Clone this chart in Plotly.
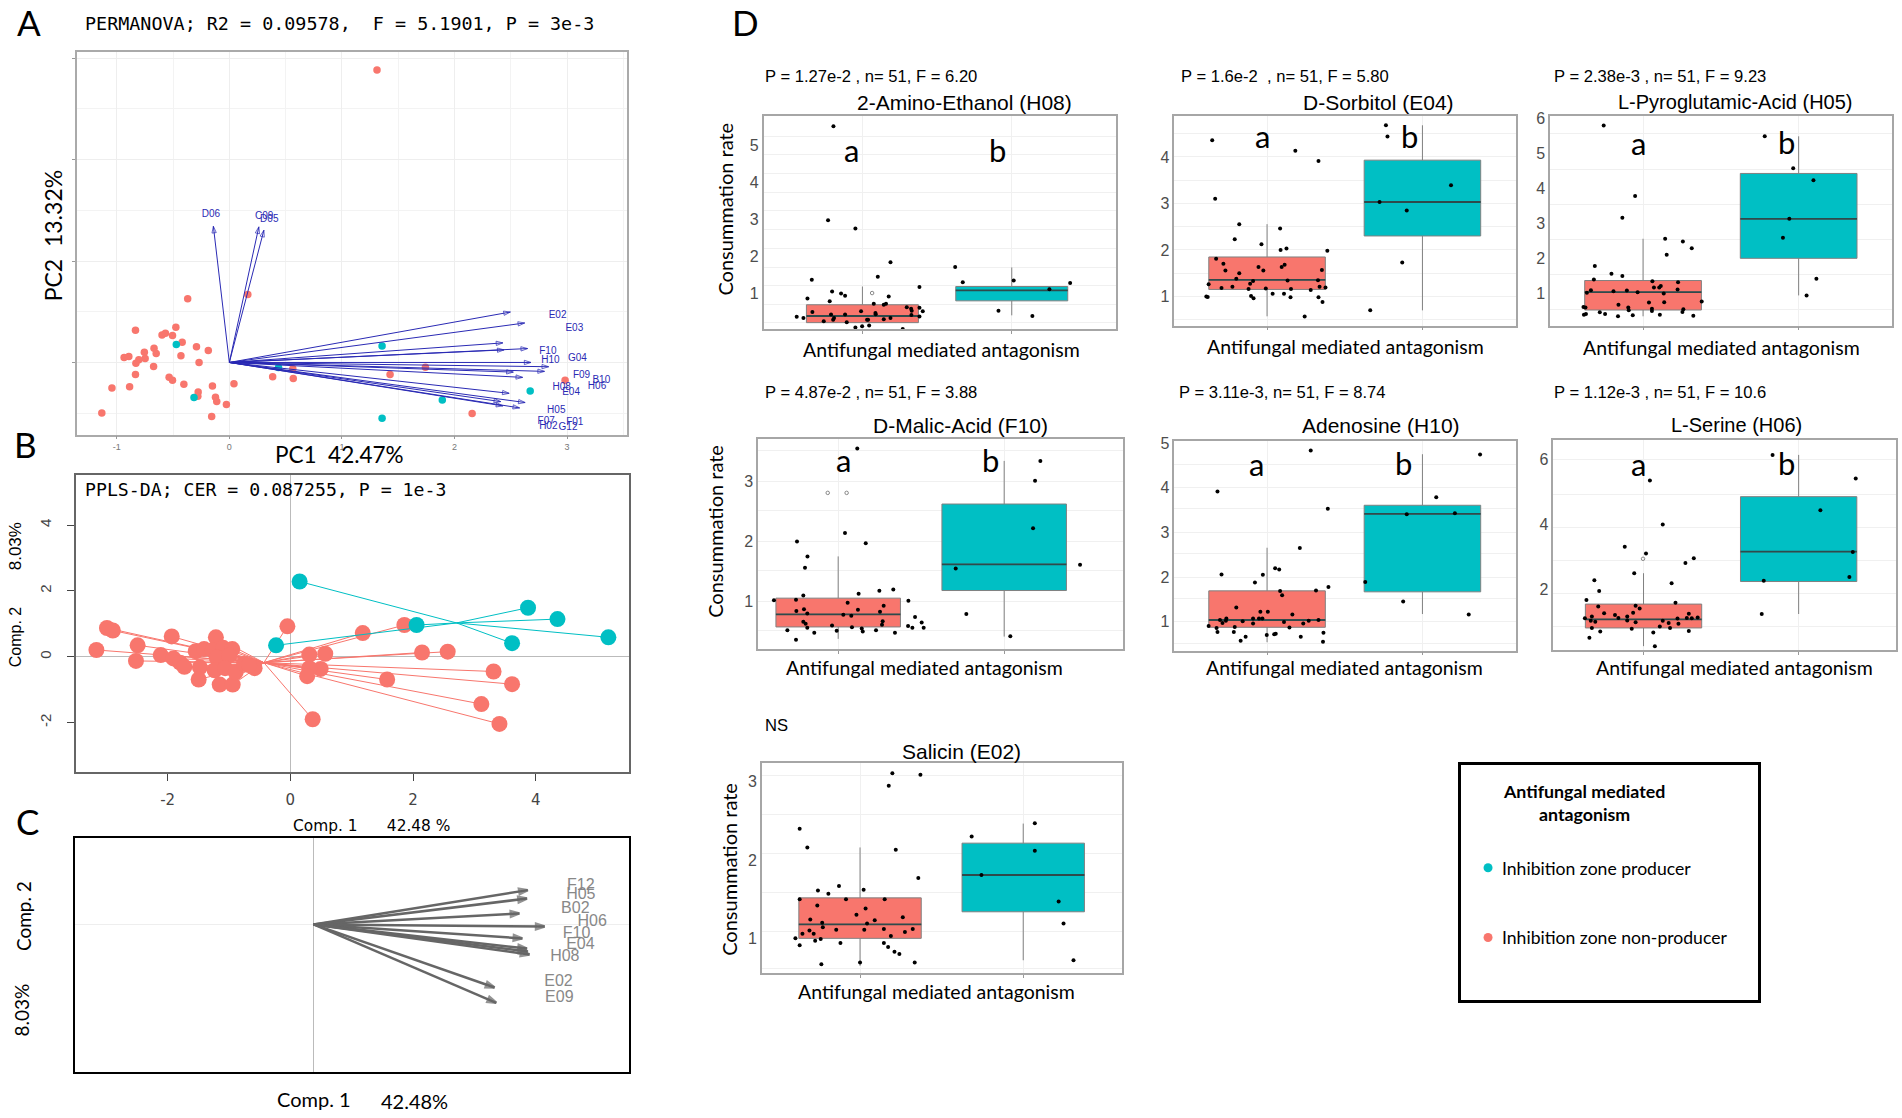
import plotly.graph_objects as go

RED = "#F8766D"
TEAL = "#00BFC4"
W, H = 1902, 1118

# panel A, PCA scores and loadings
a_red_x = [1.312, 0.164, -0.370, -0.475, -0.834, -0.598, -0.568, -0.505, -0.419, -0.669, -0.292, -0.187, -0.755, -0.650, -0.893, -0.935, -0.748, -0.430, -0.804, -0.830, -0.269, -0.673, -0.834, -0.535, -0.505, -0.404, -0.886, -1.043, -0.150, 0.041, -0.277, -0.280, -0.123, -0.112, -0.026, -0.157, -1.133, 0.385, 0.568, 0.564, 1.428, 1.742, 2.157, 2.983]
a_red_y = [2.882, 0.670, 0.627, 0.346, 0.317, 0.271, 0.288, 0.265, 0.199, 0.141, 0.154, 0.118, 0.101, 0.088, 0.059, 0.049, 0.039, 0.065, 0.026, -0.007, 0.0, -0.039, -0.118, -0.147, -0.176, -0.216, -0.239, -0.252, -0.232, -0.209, -0.291, -0.333, -0.343, -0.386, -0.415, -0.533, -0.497, -0.141, -0.157, -0.062, -0.118, -0.046, -0.503, -0.176]
a_teal_x = [1.357, -0.471, 0.437, 2.673, 1.892, -0.314, 1.357]
a_teal_y = [0.163, 0.176, -0.049, -0.281, -0.369, -0.346, -0.549]
a_arrow_x = [-0.142, 0.262, 0.307, 2.497, 2.624, 2.430, 2.441, 2.650, 2.680, 2.837, 2.800, 2.523, 2.606, 2.486, 2.628, 2.411, 2.430, 2.579]
a_arrow_y = [1.343, 1.337, 1.304, 0.497, 0.389, 0.193, 0.124, 0.137, 0.0, -0.042, -0.088, -0.095, -0.147, -0.304, -0.395, -0.386, -0.428, -0.448]
a_labels = ["D06", "C09", "D05", "E02", "E03", "F10", "H10", "G04", "F09", "B10", "H06", "H08", "E04", "H05", "F07", "F01", "H02", "G12"]
a_label_x = [-0.164, 0.310, 0.355, 2.916, 3.065, 2.830, 2.852, 3.092, 3.129, 3.305, 3.267, 2.953, 3.036, 2.905, 2.815, 3.069, 2.834, 3.009]
a_label_y = [1.454, 1.438, 1.405, 0.458, 0.333, 0.105, 0.023, 0.036, -0.127, -0.176, -0.239, -0.248, -0.294, -0.477, -0.582, -0.595, -0.627, -0.644]

# panel B, PLS-DA scores
b_red_x = [-3.162, -2.990, -2.894, -2.490, -2.517, -1.934, -2.113, -1.907, -1.797, -1.728, -1.543, -1.406, -1.214, -1.475, -1.495, -1.269, -1.097, -0.947, -1.200, -0.995, -1.235, -1.063, -1.152, -0.940, -0.892, -0.754, -0.583, -0.672, -0.048, 0.309, 0.569, 0.494, 0.309, 0.274, 0.364, 1.180, 1.859, 1.578, 2.147, 2.565, 3.313, 3.615, 3.114, 3.409]
b_red_y = [0.205, 0.873, 0.796, 0.347, -0.128, 0.616, 0.051, -0.051, -0.180, -0.308, 0.167, 0.231, 0.590, -0.321, -0.693, 0.193, 0.270, 0.231, -0.026, 0.039, -0.411, -0.347, -0.847, -0.847, -0.475, -0.218, -0.347, -0.257, 0.924, 0.064, 0.090, -0.372, -0.347, -0.590, -1.900, 0.719, 0.963, -0.693, 0.128, 0.154, -0.449, -0.834, -1.438, -2.041]
b_red_center = [-0.432, -0.18]
b_teal_x = [0.151, -0.233, 2.058, 3.875, 4.355, 5.185, 3.615]
b_teal_y = [2.285, 0.347, 0.963, 1.489, 1.143, 0.590, 0.411]
b_teal_center = [2.709, 1.027]

# panel C, PLS-DA loadings
c_arrow_x = [1.018, 1.014, 0.978, 1.098, 0.992, 1.014, 1.018, 1.026, 0.860, 0.868]
c_arrow_y = [0.162, 0.122, 0.052, -0.010, -0.066, -0.114, -0.128, -0.142, -0.298, -0.370]
c_labels = ["F12", "H05", "B02", "H06", "F10", "E04", "H08", "E02", "E09"]
c_label_x = [1.270, 1.270, 1.244, 1.324, 1.250, 1.268, 1.194, 1.164, 1.168]
c_label_y = [0.182, 0.138, 0.074, 0.012, -0.044, -0.098, -0.156, -0.274, -0.348]

# panel D, boxes: q1, median, q3, lower whisker, upper whisker
h08_red_box = [0.223, 0.402, 0.705, 0.223, 1.196]
h08_teal_box = [0.81, 1.09, 1.196, 0.42, 1.71]
h08_red_x = [.806, .770, .953, 1.188, 1.103, .661, 1.382, .797, .857, .884, 1.176, .632, .781, 1.076, 1.143, 1.158, 1.297, 1.326, 1.330, 1.382, 1.404, .665, .991, .790, .884, 1.087, 1.089, 1.328, 1.382, .560, .605, .810, .804, .741, .895, 1.031, 1.038, 1.143, 1.188, .953, .998, 1.045, 1.270]
h08_red_y = [5.51, 2.98, 2.76, 1.85, 1.46, 1.375, 1.18, 1.06, 1.01, .95, .93, .875, .80, .73, .705, .73, .64, .60, .545, .625, .527, .51, .527, .44, .44, .48, .446, .43, .39, .384, .348, .348, .304, .259, .232, .304, .304, .313, .348, .089, .125, .143, .054]
h08_teal_x = [1.621, 1.672, 2.013, 2.252, 2.391, 1.911, 2.138]
h08_teal_y = [1.72, 1.31, 1.36, 1.12, 1.29, .545, .40]
h08_grid = [.22, .71, 1.22, 1.71, 2.23, 2.74, 3.25, 3.74, 4.23, 4.75, 5.24]
h08_faint_x = [1.065]
h08_faint_y = [1.02]

e04_red_box = [1.15, 1.356, 1.848, .572, 2.554]
e04_teal_box = [2.30, 3.03, 3.93, .70, 4.68]
e04_red_x = [.647, 1.182, 1.331, .666, .821, 1.084, .792, .964, 1.087, 1.125, 1.388, .672, .719, .732, .945, .976, 1.113, 1.094, 1.353, .821, .802, .910, .891, 1.132, 1.328, .624, 1.338, .777, .707, .881, .992, 1.154, 1.281, 1.376, 1.036, 1.109, .609, .618, .897, .913, 1.151, 1.331, 1.357, 1.242]
e04_red_y = [4.36, 4.13, 3.91, 3.10, 2.55, 2.46, 2.23, 2.12, 2.00, 2.03, 1.98, 1.81, 1.70, 1.56, 1.63, 1.56, 1.68, 1.63, 1.57, 1.50, 1.38, 1.33, 1.27, 1.34, 1.35, 1.26, 1.21, 1.21, 1.18, 1.16, 1.17, 1.16, 1.14, 1.19, 1.06, 1.06, 1.00, .99, 1.01, .96, .98, .98, .88, .57]
e04_teal_x = [1.765, 1.775, 2.184, 1.724, 1.899, 1.870, 1.664]
e04_teal_y = [4.68, 4.44, 3.39, 3.03, 2.85, 1.73, .70]
e04_grid = [.5, 1, 1.5, 2, 2.5, 3, 3.5, 4, 4.5]

h05_red_box = [.537, 1.047, 1.378, .357, 2.569]
h05_teal_box = [2.011, 3.136, 4.431, .953, 5.49]
h05_red_x = [.747, .949, .867, 1.142, 1.256, 1.313, 1.152, .690, .797, .867, .684, 1.060, 1.225, 1.070, 1.104, 1.114, 1.222, .665, .639, .810, .896, .965, 1.133, 1.377, 1.038, 1.136, .842, .617, .630, .905, .908, 1.057, 1.057, 1.259, 1.253, .722, .756, .620, .633, .839, .934, 1.108, 1.323]
h05_red_y = [5.80, 3.79, 3.17, 2.57, 2.49, 2.30, 2.11, 1.79, 1.57, 1.51, 1.41, 1.36, 1.33, 1.18, 1.18, 1.22, 1.12, 1.10, 1.03, 1.07, 1.09, 1.04, 1.01, .78, .75, .76, .69, .62, .61, .61, .53, .57, .51, .56, .48, .47, .42, .40, .42, .36, .39, .40, .37]
h05_teal_x = [1.782, 1.965, 2.095, 1.940, 1.899, 2.114, 2.051]
h05_teal_y = [5.49, 4.58, 4.24, 3.14, 2.60, 1.43, .95]
h05_grid = [.55, 1.54, 2.55, 3.55, 4.54, 5.56]

f10_red_box = [.575, .785, 1.055, .376, 1.751]
f10_teal_box = [1.182, 1.619, 2.624, .414, 3.343]
f10_red_x = [1.115, 1.041, .752, 1.166, .815, .800, 1.123, .790, 1.248, 1.332, .613, .746, 1.057, 1.423, 1.274, .794, .748, 1.119, 1.252, .814, 1.031, 1.079, 1.463, .790, .804, 1.268, 1.503, 1.264, .963, .814, 1.421, 1.447, 1.515, 1.083, 1.142, 1.148, .694, 1.228, .991, .856, 1.342, .746]
f10_red_y = [3.55, 2.14, 2.00, 1.97, 1.75, 1.56, 1.13, 1.10, 1.18, 1.20, 1.02, 1.03, .98, 1.01, .93, .87, .84, .86, .83, .80, .78, .76, .74, .66, .63, .67, .65, .61, .60, .56, .59, .56, .56, .57, .55, .50, .52, .52, .51, .48, .48, .36]
f10_teal_x = [2.218, 2.186, 2.174, 1.708, 2.457, 1.772, 2.037]
f10_teal_y = [3.34, 3.01, 2.22, 1.55, 1.61, .79, .42]
f10_grid = [.51, 1, 1.52, 2, 2.51, 3, 3.51]
f10_faint_x = [.937, 1.051]
f10_faint_y = [2.81, 2.81]

h10_red_box = [.874, 1.037, 1.691, .539, 2.658]
h10_teal_box = [1.669, 3.416, 3.61, 1.171, 4.755]
h10_red_x = [1.281, .681, 1.391, 1.211, .707, .973, 1.052, 1.078, .922, 1.395, 1.315, 1.084, 1.097, .802, .957, 1.005, 1.163, .697, .738, .910, .948, .970, .735, .713, .843, .910, 1.109, 1.268, 1.331, 1.233, .624, .792, .675, 1.144, .681, .786, 1.363, .998, 1.046, 1.056, .862, 1.217, .830, 1.360]
h10_red_y = [4.84, 3.92, 3.53, 2.65, 2.06, 2.05, 2.20, 2.17, 1.88, 1.78, 1.70, 1.69, 1.59, 1.32, 1.22, 1.22, 1.16, 1.04, 1.07, 1.07, 1.07, 1.07, 1.02, .97, 1.01, .96, .99, 1.02, 1.04, .96, .90, .88, .86, .87, .77, .77, .75, .70, .72, .73, .66, .66, .57, .55]
h10_teal_x = [2.371, 2.089, 1.899, 2.209, 1.632, 1.876, 2.298]
h10_teal_y = [4.75, 3.79, 3.41, 3.43, 1.89, 1.45, 1.16]
h10_grid = [.52, 1, 1.52, 2, 2.53, 3, 3.54, 4, 4.53]

h06_red_box = [.832, 1.096, 1.563, .274, 2.508]
h06_teal_box = [2.254, 3.168, 4.853, 1.259, 6.132]
h06_red_x = [1.041, 1.124, .879, 1.016, 1.324, 1.270, .940, .683, 1.181, .714, .632, 1.206, .708, .975, .949, .746, .933, .816, 1.292, .895, .667, .622, .838, .895, 1.279, 1.349, 1.311, 1.219, .660, .689, 1.124, 1.225, .949, 1.162, 1.105, .667, 1.171, .924, 1.292, .721, 1.063, .651, 1.073]
h06_red_y = [5.35, 4.00, 3.32, 3.11, 2.97, 2.82, 2.51, 2.29, 2.20, 1.96, 1.69, 1.60, 1.49, 1.43, 1.51, 1.28, 1.30, 1.23, 1.27, 1.18, 1.18, 1.13, 1.14, 1.06, 1.14, 1.15, 1.13, 1.12, 1.05, 1.02, 1.05, .96, 1.01, .98, .88, .83, .83, .81, .74, .72, .69, .53, .27]
h06_teal_x = [1.832, 2.368, 2.140, 2.349, 1.775, 2.327, 1.762]
h06_teal_y = [6.13, 5.41, 4.44, 3.16, 2.28, 2.39, 1.26]
h06_grid = [.88, 1.9, 2.91, 3.9, 4.91, 6]
h06_faint_x = [.997]
h06_faint_y = [2.95]

e02_red_box = [1.0, 1.178, 1.517, .648, 2.161]
e02_teal_box = [1.339, 1.809, 2.216, .72, 2.466]
e02_red_x = [1.198, 1.370, 1.176, .630, .677, 1.219, 1.357, .871, .742, 1.022, .806, .630, .914, 1.151, .738, 1.034, .978, 1.262, .695, 1.090, 1.043, .768, .772, .690, .854, 1.026, 1.146, 1.323, 1.275, .647, .716, 1.189, .604, .759, .725, .880, 1.146, .630, 1.172, 1.211, 1.241, 1.000, 1.335, .763]
e02_red_y = [3.11, 3.09, 2.95, 2.40, 2.16, 2.13, 1.77, 1.67, 1.61, 1.62, 1.57, 1.50, 1.50, 1.50, 1.42, 1.38, 1.30, 1.27, 1.24, 1.23, 1.19, 1.20, 1.14, 1.10, 1.11, 1.11, 1.12, 1.12, 1.08, 1.06, 1.06, 1.03, 1.00, .99, .97, .94, .94, .91, .89, .83, .80, .69, .69, .67]
e02_teal_x = [2.071, 1.684, 2.071, 1.744, 2.217, 2.247, 2.308]
e02_teal_y = [2.47, 2.30, 2.12, 1.81, 1.47, 1.19, .72]
e02_grid = [.61, 1.09, 1.58, 2.08, 2.58, 3.08]


def dom_x(l, r):
    return [l / W, r / W]


def dom_y(t, b):
    return [1 - b / H, 1 - t / H]


notes = []


def note(text, x, y, size, font="Lato", color="black", angle=0, anchor="center"):
    notes.append(dict(text=text, x=x / W, y=1 - y / H, xref="paper", yref="paper",
                      showarrow=False, textangle=angle, xanchor=anchor, yanchor="middle",
                      font=dict(size=size, family=font, color=color)))


def arrow(xa, ya, x, y, color, width, head):
    fig.add_trace(go.Scatter(x=[0, x], y=[0, y], xaxis=xa, yaxis=ya, mode="lines+markers",
                             line=dict(color=color, width=width),
                             marker=dict(symbol="arrow-open", angleref="previous", size=[0, head],
                                         color=color, line=dict(color=color, width=width))))


def dots(xa, ya, x, y, color, size):
    fig.add_trace(go.Scatter(x=x, y=y, xaxis=xa, yaxis=ya, mode="markers",
                             marker=dict(color=color, size=size)))


fig = go.Figure()
axes = {}

# ---------- A
axes["xaxis"] = dict(domain=dom_x(76.6, 627), range=[-1.357, 3.533], anchor="y", tickvals=[-1, 0, 1, 2, 3],
                     ticktext=["-1", "0", "1", "2", "3"],
                     ticks="outside", ticklen=3, tickcolor="#999", gridcolor="#eeeeee", zeroline=False,
                     tickfont=dict(size=9, family="Liberation Sans", color="#777"),
                     minor=dict(dtick=0.5, showgrid=True, gridcolor="#f3f3f3"),
                     showline=True, mirror=True, linecolor="#aaaaaa", linewidth=1.5)
axes["yaxis"] = dict(domain=dom_y(46.7, 431), range=[-0.712, 3.056], anchor="x", tickvals=[0, 1, 2, 3],
                     showticklabels=False, ticks="outside", ticklen=3, tickcolor="#999",
                     gridcolor="#eeeeee", zeroline=False,
                     minor=dict(dtick=0.5, showgrid=True, gridcolor="#f3f3f3"),
                     showline=True, mirror=True, linecolor="#aaaaaa", linewidth=1.5)
dots("x", "y", a_red_x, a_red_y, RED, 7.5)
dots("x", "y", a_teal_x, a_teal_y, TEAL, 7.5)
for ax, ay in zip(a_arrow_x, a_arrow_y):
    arrow("x", "y", ax, ay, "#2a2ab4", 1, 7)
fig.add_trace(go.Scatter(x=a_label_x, y=a_label_y, xaxis="x", yaxis="y", mode="text", text=a_labels,
                         textfont=dict(size=10, family="Liberation Sans", color="#2a2ab4")))

# ---------- B
axes["xaxis2"] = dict(domain=dom_x(75.8, 629), range=[-3.498, 5.521], anchor="y2", tickvals=[-2, 0, 2, 4],
                      ticktext=["-2", "0", "2", "4"], ticklabelstandoff=6,
                      ticks="outside", ticklen=7, tickcolor="#444", showgrid=False, zeroline=True,
                      zerolinecolor="#bbbbbb", zerolinewidth=1,
                      tickfont=dict(size=15, family="DejaVu Sans", color="#444"),
                      showline=True, mirror=True, linecolor="#666", linewidth=2)
axes["yaxis2"] = dict(domain=dom_y(471.6, 769.7), range=[-3.49, 5.52], anchor="x2", tickvals=[-2, 0, 2, 4],
                      ticktext=["-2", "0", "2", "4"], ticklabelstandoff=10,
                      ticks="outside", ticklen=7, tickcolor="#444", showgrid=False, zeroline=True,
                      zerolinecolor="#bbbbbb", zerolinewidth=1, tickangle=-90,
                      tickfont=dict(size=15, family="Liberation Sans", color="#444"),
                      showline=True, mirror=True, linecolor="#666", linewidth=2)
for xs, ys, center, col in [(b_red_x, b_red_y, b_red_center, RED), (b_teal_x, b_teal_y, b_teal_center, TEAL)]:
    seg_x, seg_y = [], []
    for px_, py_ in zip(xs, ys):
        seg_x += [center[0], px_, None]
        seg_y += [center[1], py_, None]
    fig.add_trace(go.Scatter(x=seg_x, y=seg_y, xaxis="x2", yaxis="y2", mode="lines",
                             line=dict(color=col, width=1)))
    dots("x2", "y2", xs, ys, col, 16)

# ---------- C
axes["xaxis3"] = dict(domain=dom_x(74.5, 628.8), range=[-1.136, 1.498], anchor="y3", showticklabels=False,
                      ticks="", showgrid=False, zeroline=True, zerolinecolor="#bbbbbb", zerolinewidth=1,
                      showline=True, mirror=True, linecolor="black", linewidth=2)
axes["yaxis3"] = dict(domain=dom_y(836.5, 1072), range=[-0.698, 0.408], anchor="x3", showticklabels=False,
                      ticks="", showgrid=False, zeroline=True, zerolinecolor="#eeeeee", zerolinewidth=1,
                      showline=True, mirror=True, linecolor="black", linewidth=2)
for ax, ay in zip(c_arrow_x, c_arrow_y):
    arrow("x3", "y3", ax, ay, "#666666", 2.5, 9)
fig.add_trace(go.Scatter(x=c_label_x, y=c_label_y, xaxis="x3", yaxis="y3", mode="text", text=c_labels,
                         textfont=dict(size=16, family="Liberation Sans", color="#888888")))

# ---------- D
panels = [
    ("2-Amino-Ethanol (H08)", 21, "P = 1.27e-2 , n= 51, F = 6.20", h08_red_box, h08_teal_box, h08_red_x, h08_red_y, h08_teal_x, h08_teal_y, h08_grid, [1, 2, 3, 4, 5],
     (763.7, 1115.7, 111, 325), (.339, 2.696), (.045, 5.777), 0.75, (763.3, 71), (965, 97), (941, 345), (851, 145), (998, 145), (724.7, 204), h08_faint_x, h08_faint_y),
    ("D-Sorbitol (E04)", 21, "P = 1.6e-2\u00a0 , n= 51, F = 5.80", e04_red_box, e04_teal_box, e04_red_x, e04_red_y, e04_teal_x, e04_teal_y, e04_grid, [1, 2, 3, 4],
     (1174.3, 1515.5, 110.7, 321.3), (.403, 2.599), (.373, 4.877), 0.75, (1179, 71), (1378.6, 97), (1345.7, 342), (1262, 131), (1409.7, 131), None, [], []),
    ("L-Pyroglutamic-Acid (H05)", 20, "P = 2.38e-3 , n= 51, F = 9.23", h05_red_box, h05_teal_box, h05_red_x, h05_red_y, h05_teal_x, h05_teal_y, h05_grid, [1, 2, 3, 4, 5, 6],
     (1550, 1891.7, 110.7, 321.3), (.402, 2.598), (.093, 6.066), 0.75, (1552, 71), (1735.6, 97), (1721.8, 343), (1638.6, 138), (1786, 137), None, [], []),
    ("D-Malic-Acid (F10)", 21, "P = 4.87e-2 , n= 51, F = 3.88", f10_red_box, f10_teal_box, f10_red_x, f10_red_y, f10_teal_x, f10_teal_y, f10_grid, [1, 2, 3],
     (758, 1122.7, 435.7, 646.3), (.517, 2.714), (.21, 3.702), 0.75, (763.3, 388.3), (960, 421.3), (924, 664.7), (843.7, 456.7), (990.7, 456.7), (715, 528.7), f10_faint_x, f10_faint_y),
    ("Adenosine (H10)", 21, "P = 3.11e-3, n= 51, F = 8.74", h10_red_box, h10_teal_box, h10_red_x, h10_red_y, h10_teal_x, h10_teal_y, h10_grid, [1, 2, 3, 4, 5],
     (1174.3, 1515.5, 437.3, 648), (.403, 2.599), (.353, 5.052), 0.75, (1177, 388.3), (1381, 421.3), (1344.7, 665.3), (1256, 460), (1403, 459), None, [], []),
    ("L-Serine (H06)", 20, "P = 1.12e-3 , n= 51, F = 10.6", h06_red_box, h06_teal_box, h06_red_x, h06_red_y, h06_teal_x, h06_teal_y, h06_grid, [2, 4, 6],
     (1553.4, 1895.6, 436.3, 647.3), (.419, 2.625), (.162, 6.589), 0.75, (1552, 388.3), (1736.6, 421.3), (1734, 664.7), (1638.6, 460), (1786, 459), None, h06_faint_x, h06_faint_y),
    ("Salicin (E02)", 21, "NS", e02_red_box, e02_teal_box, e02_red_x, e02_red_y, e02_teal_x, e02_teal_y, e02_grid, [1, 2, 3],
     (761.8, 1121.8, 761.3, 972.7), (.398, 2.604), (.551, 3.237), 0.75, (763.3, 723.3), (961.8, 750), (936.5, 990.7), None, None, (729.5, 868), [], []),
]

for i, p in enumerate(panels):
    n = i + 4
    title, title_size, stat, rbox, tbox, rx, ry, tx, ty, grid, yticks, frame, xr, yr, bw, stat_at, title_at, xl_at, a_at, b_at, yl_at, fx, fy = p
    xa, ya = f"x{n}", f"y{n}"
    axes[f"xaxis{n}"] = dict(domain=dom_x(frame[0], frame[1]), range=list(xr), anchor=ya, tickvals=[1, 2],
                             showticklabels=False, ticks="outside", ticklen=3, tickcolor="#999",
                             gridcolor="#f0f0f0", zeroline=False,
                             showline=True, mirror=True, linecolor="#a6a6a6", linewidth=1.5)
    axes[f"yaxis{n}"] = dict(domain=dom_y(frame[2], frame[3]), range=list(yr), anchor=xa, tickvals=yticks,
                             ticks="", showgrid=False, zeroline=False,
                             tickfont=dict(size=16, family="Liberation Sans", color="#4d4d4d"),
                             minor=dict(tickmode="array", tickvals=grid, showgrid=True, gridcolor="#f0f0f0", ticks=""),
                             showline=True, mirror=True, linecolor="#a6a6a6", linewidth=1.5)
    for pos, box, col in [(1, rbox, RED), (2, tbox, TEAL)]:
        fig.add_trace(go.Box(x=[pos], q1=[box[0]], median=[box[1]], q3=[box[2]], lowerfence=[box[3]],
                             upperfence=[box[4]], width=bw, whiskerwidth=0, fillcolor=col,
                             line=dict(color="#808080", width=1), xaxis=xa, yaxis=ya, boxpoints=False))
        fig.add_trace(go.Scatter(x=[pos - bw / 2, pos + bw / 2], y=[box[1], box[1]], xaxis=xa, yaxis=ya,
                                 mode="lines", line=dict(color="#2e4a4b", width=1.8)))
    dots(xa, ya, rx + tx, ry + ty, "black", 4)
    if fx:
        fig.add_trace(go.Scatter(x=fx, y=fy, xaxis=xa, yaxis=ya, mode="markers",
                                 marker=dict(symbol="circle-open", size=3.5, color="#888888", line=dict(width=1))))
    note(stat, stat_at[0], stat_at[1], 16.6, "Liberation Sans", anchor="left")
    note(title, title_at[0], title_at[1], title_size, "Liberation Sans")
    note("Antifungal mediated antagonism", xl_at[0], xl_at[1], 19.5)
    if a_at:
        note("a", a_at[0], a_at[1], 31)
        note("b", b_at[0], b_at[1], 31)
    if yl_at:
        note("Consummation rate", yl_at[0], yl_at[1], 20, angle=-90)

# ---------- legend box
axes["xaxis11"] = dict(domain=dom_x(1461.4, 1757.5), range=[0, 1], anchor="y11", showticklabels=False, ticks="",
                       showgrid=False, zeroline=False, showline=True, mirror=True, linecolor="black", linewidth=3)
axes["yaxis11"] = dict(domain=dom_y(763.3, 999.3), range=[0, 1], anchor="x11", showticklabels=False, ticks="",
                       showgrid=False, zeroline=False, showline=True, mirror=True, linecolor="black", linewidth=3)
dots("x11", "y11", [0.09], [0.563], TEAL, 9)
dots("x11", "y11", [0.09], [0.266], RED, 9)
note("<b>Antifungal mediated</b>", 1584, 789, 17.8)
note("<b>antagonism</b>", 1584, 812, 17.8)
note("Inhibition zone producer", 1500, 867.5, 17.6, anchor="left")
note("Inhibition zone non-producer", 1500, 936.5, 17.6, anchor="left")

# ---------- free text
note("A", 29, 16, 35)
note("B", 25, 440, 35)
note("C", 27, 819, 35)
note("D", 745, 16, 35)
note("PERMANOVA; R2 = 0.09578,\u00a0 F = 5.1901, P = 3e-3", 83, 18, 18.4, "DejaVu Sans Mono", anchor="left")
note("PC2\u00a0 13.32%", 52.6, 231, 23, angle=-90)
note("PC1\u00a0 42.47%", 339, 451, 22.5)
note("PPLS-DA; CER = 0.087255, P = 1e-3", 83, 486, 18.2, "DejaVu Sans Mono", anchor="left")
note("Comp. 2", 15.6, 634, 16, "Liberation Sans", angle=-90)
note("8.03%", 15.6, 543.6, 17, "Liberation Sans", angle=-90)
note("Comp. 1\u00a0\u00a0\u00a0\u00a0\u00a0 42.48 %", 371.5, 824, 15.4, "DejaVu Sans")
note("Comp. 2", 23, 915, 19, "Lato", angle=-90)
note("8.03%", 22, 1010, 19, "Lato", angle=-90)
note("Comp. 1", 313.5, 1098.5, 20)
note("42.48%", 414.5, 1101, 20)

fig.update_layout(width=W, height=H, margin=dict(l=0, r=0, t=0, b=0), paper_bgcolor="white",
                  plot_bgcolor="white", showlegend=False, annotations=notes, **axes)
fig.write_html("out.html", config={"displayModeBar": False}, post_script="document.body.style.margin='0';")
